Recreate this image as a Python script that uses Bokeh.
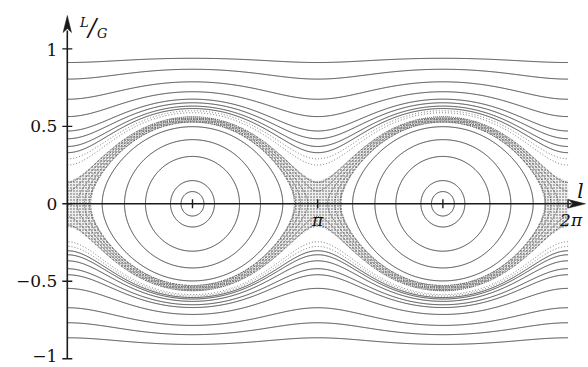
import numpy as np
from bokeh.plotting import figure
from bokeh.embed import file_html
from bokeh.resources import INLINE
from bokeh.core.properties import value

# ---------------- data ----------------
A_coupling = 0.178            # pendulum strength (separatrix reaches L/G = 0.55 at l = pi/2)
# rotating (circulating) curves: value of L/G where each crosses l = 0
upper_L0 = [0.912, 0.805, 0.675, 0.563, 0.47, 0.42, 0.37, 0.33]
lower_L0 = [-0.865, -0.768, -0.671, -0.546, -0.458, -0.419, -0.368, -0.329, -0.303]
# faint / dotted rotating curves close to the chaotic layer
upper_L0_dotted = [0.29, 0.25]
lower_L0_dotted = [-0.275, -0.245]
# librating curves: half width in l (rad) where each cuts L/G = 0
libr_half_width = [1.133, 0.853, 0.590, 0.276, 0.144]
libr_half_width_dotted = [1.28]
# chaotic layer around the separatrix: half width at the saddle (l, rad) and (L/G)
chaos_half_l = 0.30
chaos_half_L = 0.15

y_ticks = [-1.0, -0.5, 0.0, 0.5, 1.0]
y_tick_labels = ["\u22121", "\u22120.5", "0", "0.5", "1"]
x_ticks = [np.pi / 2, np.pi, 3 * np.pi / 2, 2 * np.pi]
x_tick_labels = ["", "\u03c0", "", "2\u03c0"]

# ---------------- geometry of the page ----------------
W, H = 588, 367
PX_L = 79.7          # pixels per radian
PX_Y = 154.9         # pixels per unit of L/G
X0 = 66.8            # pixel of l = 0
Y0 = 203.3           # pixel (from top) of L/G = 0
x_range = (-X0 / PX_L, (W - X0) / PX_L)
y_range = (-(H - Y0) / PX_Y, Y0 / PX_Y)

p = figure(width=W, height=H, output_backend="svg", toolbar_location=None,
           x_range=x_range, y_range=y_range, x_axis_type=None, y_axis_type=None,
           min_border=0, outline_line_color=None, background_fill_color="white",
           border_fill_color="white")
p.grid.visible = False

A = A_coupling
def ham(l, L):
    return L**2 + A * (1 - L**2) * np.cos(2 * l)

def lev_rot(L0):
    return L0**2 + A * (1 - L0**2)

def lev_lib(dl):
    return -A * np.cos(2 * dl)

lg = np.linspace(0, 2 * np.pi, 900)
Lfull = np.linspace(-1, 1, 700)
Lup = np.linspace(0.001, 1.0, 500)
Ldn = np.linspace(-1.0, -0.001, 500)

def grid(Ls):
    LL, YY = np.meshgrid(lg, Ls)
    return LL, YY, ham(LL, YY)

gx, gy, gz = grid(Lfull)
ux, uy, uz = grid(Lup)
dx_, dy_, dz = grid(Ldn)

line_kw = dict(line_color="#1a1a1a", line_width=0.8, fill_color=None)
dot_kw = dict(line_color="#555555", line_width=0.8, line_dash="1 2", fill_color=None)

# chaotic layer (band between two energy levels)
lo = lev_lib(np.pi / 2 - chaos_half_l)
hi = lev_rot(chaos_half_L)
p.contour(gx, gy, gz, [lo, hi], fill_color="#d0d0d0", fill_alpha=0.35,
          hatch_pattern=".", hatch_color="#111111", hatch_scale=3.0, hatch_weight=1.0,
          hatch_alpha=0.7, line_color=None)
band_levels = sorted([lo + (hi - lo) * f for f in (0.08, 0.3, 0.52, 0.74, 0.94)])
p.contour(gx, gy, gz, band_levels, line_color="#333333", line_width=0.8,
          line_dash="1 1", fill_color=None)

# regular curves
p.contour(ux, uy, uz, sorted(lev_rot(v) for v in upper_L0), **line_kw)
p.contour(dx_, dy_, dz, sorted(lev_rot(v) for v in lower_L0), **line_kw)
p.contour(gx, gy, gz, sorted(lev_lib(v) for v in libr_half_width), **line_kw)
p.contour(ux, uy, uz, sorted(lev_rot(v) for v in upper_L0_dotted), **dot_kw)
p.contour(dx_, dy_, dz, sorted(lev_rot(v) for v in lower_L0_dotted), **dot_kw)
p.contour(gx, gy, gz, sorted(lev_lib(v) for v in libr_half_width_dotted), **dot_kw)

# ---------------- axes drawn by hand ----------------
AX = "#1a1a1a"
y_top = (Y0 - 30) / PX_Y          # base of y arrow head
x_right = (W - 3 - X0) / PX_L     # tip of x arrow
p.line([0, 0], [-1, y_top], line_color=AX, line_width=1.6)
p.line([0, x_right - 14 / PX_L], [0, 0], line_color=AX, line_width=1.6)

def head(tip_x, tip_y, direction):
    ln, hw, notch = 17, 4.2, 4
    if direction == "up":
        xs = [tip_x, tip_x - hw / PX_L, tip_x, tip_x + hw / PX_L]
        ys = [tip_y, tip_y - ln / PX_Y, tip_y - (ln - notch) / PX_Y, tip_y - ln / PX_Y]
    else:
        xs = [tip_x, tip_x - ln / PX_L, tip_x - (ln - notch) / PX_L, tip_x - ln / PX_L]
        ys = [tip_y, tip_y + hw / PX_Y, tip_y, tip_y - hw / PX_Y]
    p.patch(xs, ys, fill_color=AX, line_color=AX, line_width=0.5)

head(0, (Y0 - 15) / PX_Y, "up")
head(x_right, 0, "right")

# ticks
p.scatter(x=[0] * len(y_ticks), y=y_ticks, marker="dash", size=10,
          line_color=AX, line_width=1.4)
p.scatter(x=x_ticks, y=[0] * len(x_ticks), marker="dash", size=9, angle=np.pi / 2,
          line_color=AX, line_width=1.4)

SERIF = value("DejaVu Serif")
p.text(x=[0] * len(y_ticks), y=y_ticks, text=y_tick_labels, x_offset=-10,
       y_offset=[-3, 0, 0, 0, 1],
       text_align="right", text_baseline="middle", text_font=SERIF,
       text_font_size="17px", text_color="#111111")
p.text(x=x_ticks, y=[0] * len(x_ticks), text=x_tick_labels, x_offset=[0, 0, 0, 3],
       y_offset=[0, 6, 0, 6], text_align="center", text_baseline="top",
       text_font=SERIF, text_font_size="17px", text_font_style="italic",
       text_color="#111111")

# axis titles
p.text(x=[x_right - 5 / PX_L], y=[0], text=["l"], y_offset=-13, text_align="center",
       text_baseline="middle", text_font=SERIF, text_font_size="20px",
       text_font_style="italic", text_color="#111111")
p.text(x=[0, 0, 0], y=[(Y0 - 22) / PX_Y] * 3, text=["L", "/", "G"],
       x_offset=[17, 25, 35], y_offset=[0, 5, 11], text_align="center",
       text_baseline="middle", text_font=SERIF,
       text_font_size=["13px", "24px", "13px"], text_font_style="italic",
       text_color="#111111")

open("out.html", "w").write(file_html(p, INLINE))
